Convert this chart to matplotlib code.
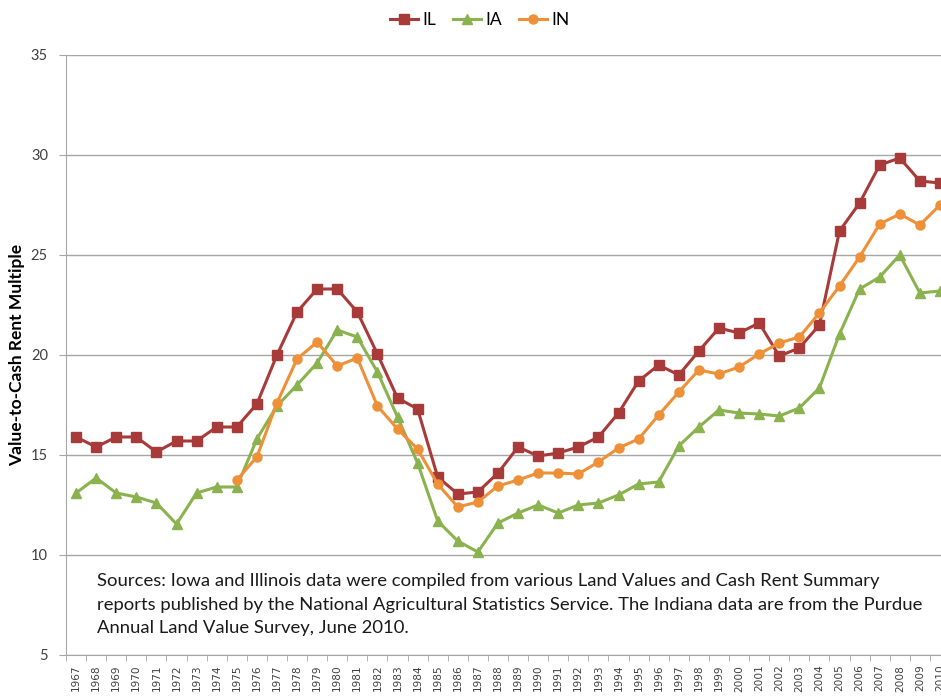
import matplotlib.pyplot as plt
from matplotlib.ticker import FixedLocator

years = list(range(1967, 2011))

il = [15.9, 15.4, 15.9, 15.9, 15.15, 15.7, 15.7, 16.4, 16.4, 17.55,
      20.0, 22.15, 23.3, 23.3, 22.15, 20.05, 17.85, 17.3, 13.9, 13.05,
      13.15, 14.1, 15.4, 14.95, 15.1, 15.4, 15.9, 17.1, 18.7, 19.5,
      19.0, 20.2, 21.35, 21.1, 21.6, 19.95, 20.35, 21.5, 26.2, 27.6,
      29.5, 29.85, 28.7, 28.6]

ia = [13.1, 13.85, 13.1, 12.9, 12.6, 11.55, 13.1, 13.4, 13.4, 15.8,
      17.45, 18.5, 19.6, 21.25, 20.9, 19.15, 16.9, 14.6, 11.7, 10.7,
      10.15, 11.6, 12.1, 12.5, 12.1, 12.5, 12.6, 13.0, 13.55, 13.65,
      15.45, 16.4, 17.25, 17.1, 17.05, 16.95, 17.35, 18.35, 21.05, 23.3,
      23.9, 25.0, 23.1, 23.2]

in_years = list(range(1975, 2011))
ind = [13.75, 14.9, 17.6, 19.8, 20.65, 19.45, 19.85, 17.45, 16.3, 15.3,
       13.55, 12.4, 12.65, 13.45, 13.75, 14.1, 14.1, 14.05, 14.65, 15.35,
       15.8, 17.0, 18.15, 19.25, 19.05, 19.4, 20.05, 20.6, 20.9, 22.1,
       23.45, 24.9, 26.55, 27.05, 26.5, 27.5]

note = ("Sources: Iowa and Illinois data were compiled from various Land Values and Cash Rent Summary\n"
        "reports published by the National Agricultural Statistics Service. The Indiana data are from the Purdue\n"
        "Annual Land Value Survey, June 2010.")

plt.rcParams['font.family'] = ['Lato', 'DejaVu Sans']

fig = plt.figure(figsize=(9.41, 6.96), dpi=100)
ax = fig.add_axes([66 / 941, 1 - 655 / 696, (950 - 66) / 941, 600 / 696])

ax.plot(years, il, color='#A83A3A', lw=2.2, marker='s', ms=7, label='IL')
ax.plot(years, ia, color='#8AB24E', lw=2.2, marker='^', ms=7.5, label='IA')
ax.plot(in_years, ind, color='#EE9038', lw=2.2, marker='o', ms=6.5, label='IN')

ax.set_xlim(1966.5, 2010.5)
ax.set_ylim(5, 35)
ax.set_yticks(range(5, 36, 5))
ax.grid(axis='y', color='#A6A6A6', lw=1)
ax.set_axisbelow(True)

ax.set_xticks(years)
ax.set_xticklabels([str(y) for y in years], rotation=90, fontsize=7.6,
                   family='DejaVu Sans', color='#404040')
ax.xaxis.set_minor_locator(FixedLocator([y - 0.5 for y in years] + [2010.5]))
ax.tick_params(axis='x', which='major', length=0, pad=7)
ax.tick_params(axis='x', which='minor', length=4, color='#A6A6A6')
ax.tick_params(axis='y', length=5, color='#A6A6A6', labelsize=10.5,
               labelcolor='#404040', pad=8)

for s in ['top', 'right']:
    ax.spines[s].set_visible(False)
for s in ['left', 'bottom']:
    ax.spines[s].set_color('#A6A6A6')

ax.set_ylabel('Value-to-Cash Rent Multiple', fontsize=12.5, fontweight='bold', labelpad=4)

fig.text(97 / 941, 1 - 573 / 696, note, fontsize=13.3, va='top', ha='left',
         color='#1A1A1A', linespacing=1.58)

fig.legend(loc='upper center', bbox_to_anchor=(0.51, 1.005), ncol=3, frameon=False,
           fontsize=12.5, handlelength=1.6, columnspacing=1.0, handletextpad=0.25)

fig.savefig('out.png', dpi=100)
